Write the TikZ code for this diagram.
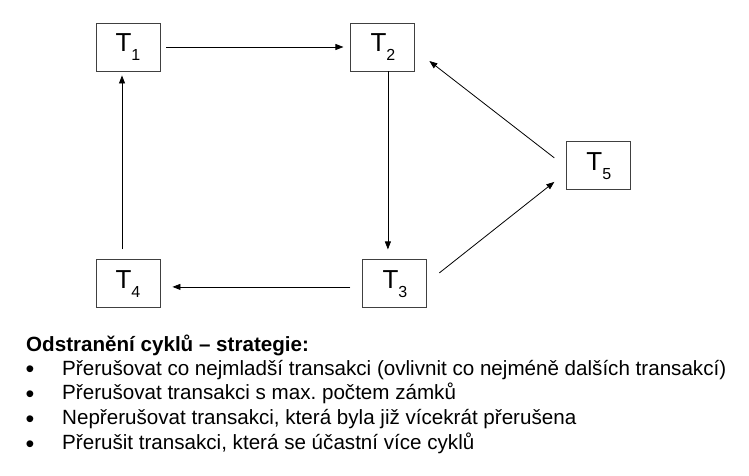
\documentclass[tikz,border=0pt]{standalone}
\usepackage{fontspec}
\setmainfont{Liberation Sans}
\usetikzlibrary{arrows.meta,positioning,calc}
\frenchspacing
\newcommand{\tlab}[2]{#1\raisebox{-9pt}{\fontsize{16}{16}\selectfont #2}}
\newcommand{\blt}{\raisebox{-2.5pt}{\fontsize{25}{25}\selectfont •}}
\tikzset{
  tnode/.style={rectangle,draw=black!75,line width=0.9pt,minimum width=64pt,minimum height=48pt,inner sep=0pt,font=\fontsize{26}{30}\selectfont},
  te/.style={-{Triangle[length=8pt,width=6pt]},line width=0.8pt},
  txt/.style={inner sep=0pt,font=\fontsize{20.6}{24}\selectfont}
}

\begin{document}
\begin{tikzpicture}
\useasboundingbox (0,0) rectangle (749pt,475pt);
\node[tnode] (T1) at (128pt,428pt) {\tlab{T}{1}};
\node[tnode, right=190pt of T1] (T2) {\tlab{T}{2}};
\node[tnode, below=188pt of T1] (T4) {\tlab{T}{4}};
\node[tnode, right=202pt of T4] (T3) {\tlab{T}{3}};
\node[tnode, below right=70pt and 151pt of T2] (T5) {\tlab{T}{5}};
\draw[te] ($(T1.east)+(6pt,0)$) -- ($(T2.west)+(-7pt,0)$);
\draw[te] ($(T2.south)+(5pt,0)$) -- ($(T2.south |- T3.north)+(5pt,10pt)$);
\draw[te] ($(T3.west)+(-12pt,-3pt)$) -- ($(T4.east)+(12pt,-3pt)$);
\draw[te] ($(T4.north)+(-6pt,10pt)$) -- ($(T1.south)+(-6pt,-4pt)$);
\draw[te] ($(T5.west)+(-12pt,8pt)$) -- ($(T2.east)+(14pt,-14pt)$);
\draw[te] ($(T3.east)+(12pt,11pt)$) -- ($(T5.west)+(-12pt,-16pt)$);
% strategie
\node[txt, anchor=base west] (head) at (26pt,124pt) {\bfseries Odstranění cyklů – strategie:};
\node[txt, anchor=base] (b1) at (30pt,100pt) {\blt};
\node[txt, anchor=base west] (s1) at (62pt,100pt) {Přerušovat co nejmladší transakci (ovlivnit co nejméně dalších transakcí)};
\node[txt, anchor=base] (b2) at (30pt,75.5pt) {\blt};
\node[txt, anchor=base west] (s2) at (62pt,75.5pt) {Přerušovat transakci s max. počtem zámků};
\node[txt, anchor=base] (b3) at (30pt,50.5pt) {\blt};
\node[txt, anchor=base west] (s3) at (62pt,50.5pt) {Nepřerušovat transakci, která byla již vícekrát přerušena};
\node[txt, anchor=base] (b4) at (30pt,25.5pt) {\blt};
\node[txt, anchor=base west] (s4) at (62pt,25.5pt) {Přerušit transakci, která se účastní více cyklů};
\end{tikzpicture}
\end{document}
